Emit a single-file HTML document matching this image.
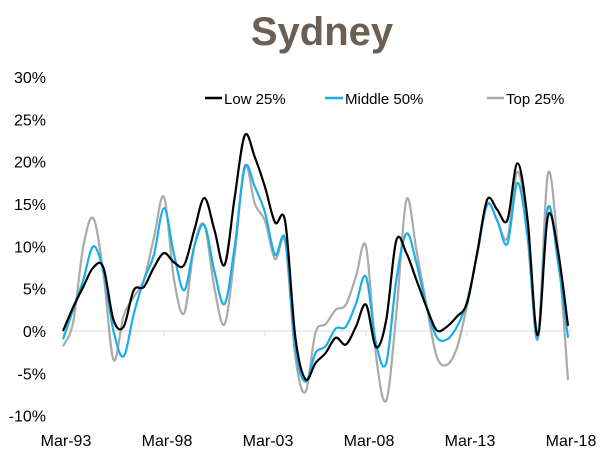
<!DOCTYPE html>
<html><head><meta charset="utf-8"><style>
body{margin:0;background:#fff;}
svg{display:block;font-family:"Liberation Sans",sans-serif;}
</style></head><body>
<svg id="chart" width="606" height="472">
<text x="322" y="45" text-anchor="middle" font-size="40" font-weight="bold" fill="#6b5e52">Sydney</text>
<g id="yaxis"></g>
<g id="xaxis"></g>
<g id="series"></g>
<g>
<g><line x1="205" y1="98" x2="222" y2="98" stroke="#000" stroke-width="2.5"/><text x="224" y="104" font-size="15">Low 25%</text></g>
<g><line x1="325" y1="98" x2="343" y2="98" stroke="#1aaee8" stroke-width="2.5"/><text x="345" y="104" font-size="15">Middle 50%</text></g>
<g><line x1="487" y1="98" x2="504" y2="98" stroke="#aaa" stroke-width="2.5"/><text x="506" y="104" font-size="15">Top 25%</text></g>
</g>
</svg>
<script>
const yTicks=[-10,-5,0,5,10,15,20,25,30];
const xTickLabels=["Mar-93","Mar-98","Mar-03","Mar-08","Mar-13","Mar-18"];
const xTickYears=[0,5,10,15,20,25];
const step=0.5;
const low=[0,2.8,5.2,7.5,7.5,1.3,0.5,4.8,5.2,7.5,9.2,8.1,7.8,11.9,15.7,11.9,7.8,15.8,23.1,20.5,17,12.8,12.9,-0.7,-5.7,-3.8,-2.6,-0.8,-1.6,0.5,3.1,-1.9,1.3,10.7,9.2,6,2.8,0.1,0.5,1.7,3.3,9.2,15.5,14.3,13.1,19.8,13.1,-0.5,13.5,9.5,0.6];
const middle=[-1,2.5,6,10,7,0,-3,2,6,9,14.5,9,4.8,10,12.5,7,3.2,10,19.3,17,14,9,10.8,-2,-6,-2.6,-1.8,0.3,0.5,3.2,6.4,-1.5,-3.8,6,11.5,8,2.8,-0.7,-1,0.5,3.5,9,14.9,13,10.3,17.5,11,-0.8,14.5,8.2,-0.8];
const top25=[-1.8,1,9.9,13.3,6.8,-3.4,1.8,4,6,11,15.8,6,2.1,10,12.5,5,0.8,9,19.5,15,13,8.5,10.5,-3,-7.2,-0.2,0.8,2.5,3.1,6.4,10,-3,-8.2,2,15.5,9.5,3,-3,-4,-2,3,9,15,13,11,18.8,12,-1,18.5,9.9,-5.8];
const X=t=>63+t*20.2, Y=v=>331-v*8.47;
const NS="http://www.w3.org/2000/svg";
const svg=document.getElementById('chart');
const ya=document.getElementById('yaxis'), xa=document.getElementById('xaxis'), sg=document.getElementById('series');
function mk(tag,attrs,parent){const e=document.createElementNS(NS,tag);for(const k in attrs)e.setAttribute(k,attrs[k]);parent.appendChild(e);return e;}
yTicks.forEach(v=>{
  const t=mk('text',{x:46,y:Y(v)+6,'text-anchor':'end','font-size':16,fill:'#000'},ya);
  
  
  t.textContent=v+'%';
});
const zl=mk('line',{x1:X(0),x2:X(25)+4,y1:Y(0),y2:Y(0),stroke:'#d9d9d9','stroke-width':1},xa);


xTickYears.forEach((yr,i)=>{
  const tk=mk('line',{x1:X(yr),x2:X(yr),y1:Y(0),y2:Y(0)+5,stroke:'#d9d9d9'},xa);
  
  
  const t=mk('text',{x:X(yr)+3,y:446,'text-anchor':'middle','font-size':16,fill:'#000'},xa);
  
  
  t.textContent=xTickLabels[i];
});
function pathFor(vals){
  const p=vals.map((v,i)=>[X(i*step),Y(v)]);
  let d='M'+p[0][0]+','+p[0][1];
  for(let i=0;i<p.length-1;i++){
    const p0=p[i-1]||p[i],p1=p[i],p2=p[i+1],p3=p[i+2]||p2;
    const c1=[p1[0]+(p2[0]-p0[0])/6,p1[1]+(p2[1]-p0[1])/6];
    const c2=[p2[0]-(p3[0]-p1[0])/6,p2[1]-(p3[1]-p1[1])/6];
    d+=`C${c1[0].toFixed(1)},${c1[1].toFixed(1)} ${c2[0].toFixed(1)},${c2[1].toFixed(1)} ${p2[0].toFixed(1)},${p2[1].toFixed(1)}`;
  }
  return d;
}
const lt=mk('path',{d:pathFor(top25),fill:'none',stroke:'#aaaaaa','stroke-width':2.2},sg);


const lm=mk('path',{d:pathFor(middle),fill:'none',stroke:'#1aaee8','stroke-width':2.2},sg);


const ll=mk('path',{d:pathFor(low),fill:'none',stroke:'#000','stroke-width':2.2},sg);


</script>
</body></html>
